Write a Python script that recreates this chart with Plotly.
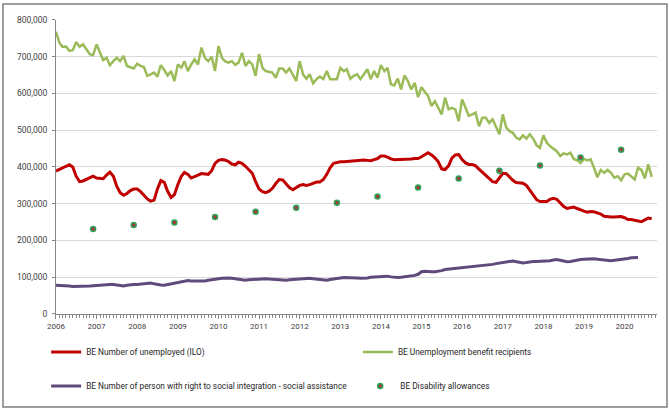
import pandas as pd
import plotly.graph_objects as go

# Monthly series, Jan 2006 onwards (values in thousands)
unemployed_ilo = [
    389, 394, 398, 402, 406, 400, 375, 360, 362, 367, 372, 375,
    370, 368, 368, 378, 386, 375, 348, 330, 323, 328, 336, 340,
    340, 333, 322, 313, 307, 310, 340, 363, 358, 334, 317, 325,
    352, 375, 385, 380, 370, 373, 378, 382, 381, 380, 390, 410,
    418, 420, 419, 415, 408, 406, 413, 410, 402, 392, 383, 360,
    340, 333, 330, 334, 342, 355, 366, 365, 354, 344, 338, 344,
    350, 352, 350, 352, 355, 359, 359, 366, 380, 398, 410, 413,
    414, 414, 415, 416, 417, 418, 419, 419, 418, 417, 420, 423,
    430, 430, 427, 422, 420, 420, 420, 420, 421, 422, 423, 423,
    428, 434, 439, 433, 425, 414, 395, 393, 403, 424, 433, 434,
    420, 411, 407, 407, 403, 394, 385, 377, 369, 360, 358, 372,
    383, 382, 372, 364, 358, 357, 356, 350, 337, 322, 311, 306,
    305, 306, 312, 315, 312, 302, 293, 287, 290, 291, 287, 283,
    280, 277, 279, 278, 276, 272, 266, 264, 264, 264, 265, 265,
    262, 257, 257, 255, 253, 251, 256, 261, 259,
]

benefit_recipients = [
    768, 738, 727, 728, 716, 718, 740, 727, 734, 720, 707, 704,
    734, 711, 691, 697, 677, 688, 697, 688, 702, 675, 672, 668,
    681, 675, 672, 648, 652, 657, 646, 677, 664, 649, 661, 634,
    679, 670, 688, 661, 679, 693, 679, 725, 697, 688, 700, 661,
    729, 697, 688, 684, 688, 678, 684, 711, 675, 688, 679, 648,
    707, 670, 661, 659, 657, 643, 668, 668, 657, 668, 652, 634,
    688, 652, 640, 652, 628, 639, 646, 639, 661, 639, 639, 639,
    670, 661, 666, 640, 648, 652, 639, 652, 666, 639, 661, 643,
    677, 661, 670, 625, 622, 641, 611, 649, 634, 611, 629, 590,
    617, 604, 593, 566, 579, 561, 543, 589, 557, 561, 557, 525,
    584, 561, 539, 543, 548, 511, 534, 534, 520, 530, 511, 489,
    543, 507, 498, 493, 480, 475, 486, 477, 489, 477, 459, 452,
    486, 466, 457, 450, 443, 430, 437, 434, 439, 422, 418, 411,
    422, 418, 421, 398, 372, 392, 384, 392, 384, 371, 375, 364,
    380, 382, 375, 366, 398, 392, 369, 407, 373,
]

social_integration = [
    78, 78, 78, 77, 76, 75, 75, 74, 74, 75, 76, 77,
    78, 79, 80, 80, 80, 80, 79, 77, 76, 78, 80, 80,
    80, 81, 82, 83, 84, 82, 80, 79, 78, 80, 82, 84,
    85, 87, 89, 91, 90, 90, 89, 89, 90, 92, 94, 95,
    96, 97, 98, 98, 97, 96, 94, 92, 92, 93, 94, 95,
    96, 96, 96, 95, 94, 93, 92, 91, 92, 93, 94, 95,
    95, 96, 97, 97, 96, 95, 93, 91, 92, 94, 96, 97,
    98, 99, 99, 100, 99, 98, 97, 97, 98, 100, 101, 102,
    103, 104, 103, 101, 99, 99, 100, 101, 103, 104, 105, 108,
    115, 116, 115, 115, 115, 116, 118, 121, 122, 123, 124, 124,
    125, 126, 127, 128, 129, 130, 131, 132, 133, 135, 137, 139,
    141, 142, 143, 144, 142, 140, 139, 140, 142, 143, 143, 143,
    143, 144, 145, 147, 148, 146, 143, 142, 143, 145, 147, 148,
    149, 150, 151, 150, 149, 148, 145, 144, 145, 146, 147, 148,
    150, 151, 153, 154, 154,
]

# Yearly, December of each year
disability_years = list(range(2006, 2020))
disability_allowances = [231, 242, 249, 264, 278, 289, 303, 320, 344, 369, 390, 404, 426, 447]

months = pd.date_range("2006-01-01", periods=len(benefit_recipients), freq="MS")
dec_dates = pd.to_datetime([f"{y}-12-01" for y in disability_years])

FONT = "Liberation Sans Narrow, Arial Narrow, Roboto, sans-serif"


def thousands(vals):
    return [v * 1000 for v in vals]


fig = go.Figure()

fig.add_trace(go.Scatter(
    x=months[:len(unemployed_ilo)], y=thousands(unemployed_ilo),
    name="BE Number of unemployed (ILO)", mode="lines",
    line=dict(color="#C00000", width=3), legend="legend"
))
fig.add_trace(go.Scatter(
    x=months, y=thousands(benefit_recipients),
    name="BE Unemployment benefit recipients", mode="lines",
    line=dict(color="#9BBB59", width=2.5), legend="legend2"
))
fig.add_trace(go.Scatter(
    x=months[:len(social_integration)], y=thousands(social_integration),
    name="BE Number of person with right to social integration - social assistance",
    mode="lines", line=dict(color="#604A7B", width=3), legend="legend3"
))
fig.add_trace(go.Scatter(
    x=dec_dates, y=thousands(disability_allowances),
    name="BE Disability allowances", mode="markers",
    marker=dict(color="#A23B3B", size=5, line=dict(color="#2FA35A", width=1.5)),
    legend="legend4"
))

# one legend per entry so each sits where the original has it
leg = dict(
    orientation="h", xanchor="left", yanchor="top",
    font=dict(family=FONT, size=8.3, color="#262626"),
    bgcolor="rgba(0,0,0,0)",
)
ROW1, ROW2 = 0.1725, 0.088
COL1, COL2 = 0.065, 0.5345

# paper = the chart frame; the plot area sits inside it via axis domains
fig.update_layout(
    width=669, height=410,
    margin=dict(l=3, r=2, t=4, b=3),
    paper_bgcolor="white", plot_bgcolor="white",
    font=dict(family=FONT, size=8, color="#404040"),
    showlegend=True,
    legend=dict(x=COL1, y=ROW1, **leg),
    legend2=dict(x=COL2, y=ROW1, **leg),
    legend3=dict(x=COL1, y=ROW2, **leg),
    legend4=dict(x=0.538, y=ROW2, **leg),
    shapes=[dict(
        type="rect", xref="paper", yref="paper", x0=0, x1=1, y0=0, y1=1,
        line=dict(color="#7F7F7F", width=1.5), fillcolor="rgba(0,0,0,0)",
    )],
)

fig.update_xaxes(
    domain=[0.0798, 0.985], automargin=False,
    range=["2006-01-01", "2020-10-19"],
    tick0="2006-01-01", dtick="M12", tickformat="%Y",
    ticks="outside", ticklen=4, tickcolor="#868686",
    minor=dict(ticks="outside", dtick="M1", ticklen=3, tickcolor="#868686"),
    showline=True, linecolor="#868686", linewidth=1,
    showgrid=False, zeroline=False,
    tickfont=dict(family=FONT, size=8, color="#404040"),
)
fig.update_yaxes(
    domain=[0.2308, 0.9603], automargin=False,
    range=[0, 800000], dtick=100000, tickformat=",",
    ticks="outside", ticklen=3, tickcolor="#868686",
    showline=True, linecolor="#868686", linewidth=1,
    gridcolor="#D9D9D9", gridwidth=1, zeroline=False,
    ticklabelstandoff=3,
    tickfont=dict(family=FONT, size=8.5, color="#404040"),
)

# drop the browser's default page margin so the figure starts at the window corner
fig.write_html(
    "out.html",
    config={"displayModeBar": False},
    post_script="document.body.style.margin = '0px';",
)
